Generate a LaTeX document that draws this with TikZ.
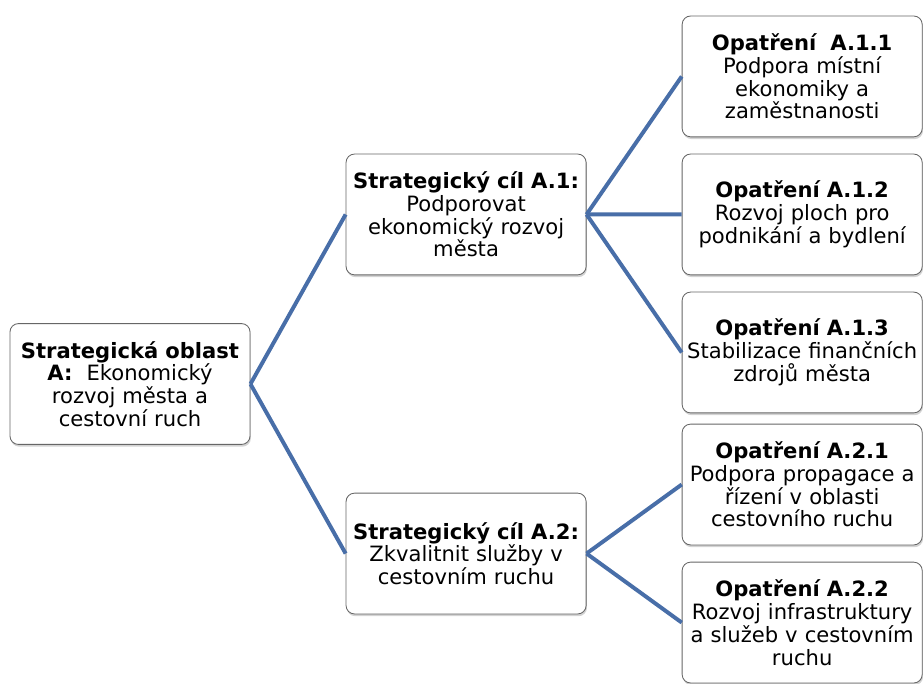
\documentclass[tikz,border=0pt]{standalone}
\usepackage{fontspec}
\setmainfont{DejaVu Sans}
\usetikzlibrary{trees, shadows, positioning}

\definecolor{linkblue}{RGB}{72,110,168}

\begin{document}
\begin{tikzpicture}[
  x=0.025cm, y=-0.025cm,
  grow'=right,
  level distance=8.4cm,
  level 1/.style={sibling distance=8.475cm},
  level 2/.style={sibling distance=3.45cm},
  box/.style={draw=black!60, line width=0.6pt, fill=white, rounded corners=6pt,
    minimum width=6cm, minimum height=3.02cm, text width=5.9cm,
    align=center, inner sep=1pt, font=\fontsize{15}{16.2}\selectfont,
    drop shadow={opacity=0.35, shadow xshift=0.6pt, shadow yshift=-1.6pt}},
  edge from parent/.style={draw=linkblue, line width=2.8pt},
  edge from parent path={(\tikzparentnode.east) -- (\tikzchildnode.west)}]

  \useasboundingbox (0,0) rectangle (923,684);

  \node[box] (oblA) at (130,384) {\textbf{Strategická oblast}\\\textbf{A:}~ Ekonomický\\rozvoj města a\\cestovní ruch}
	child {node[box](cilA1){\textbf{Strategický cíl A.1:}\\Podporovat\\ekonomický rozvoj\\města}
		child {node[box](opA11){\textbf{Opatření~ A.1.1}\\Podpora místní\\ekonomiky a\\zaměstnanosti}}
		child {node[box](opA12){\textbf{Opatření A.1.2}\\Rozvoj ploch pro\\podnikání a bydlení}}
		child {node[box](opA13){\textbf{Opatření A.1.3}\\Stabilizace finančních\\zdrojů města}}
	}
	child {node[box](cilA2){\textbf{Strategický cíl A.2:}\\Zkvalitnit služby v\\cestovním ruchu}
		child {node[box](opA21){\textbf{Opatření A.2.1}\\Podpora propagace a\\řízení v oblasti\\cestovního ruchu}}
		child {node[box](opA22){\textbf{Opatření A.2.2}\\Rozvoj infrastruktury\\a služeb v cestovním\\ruchu}}
	};
\end{tikzpicture}
\end{document}
